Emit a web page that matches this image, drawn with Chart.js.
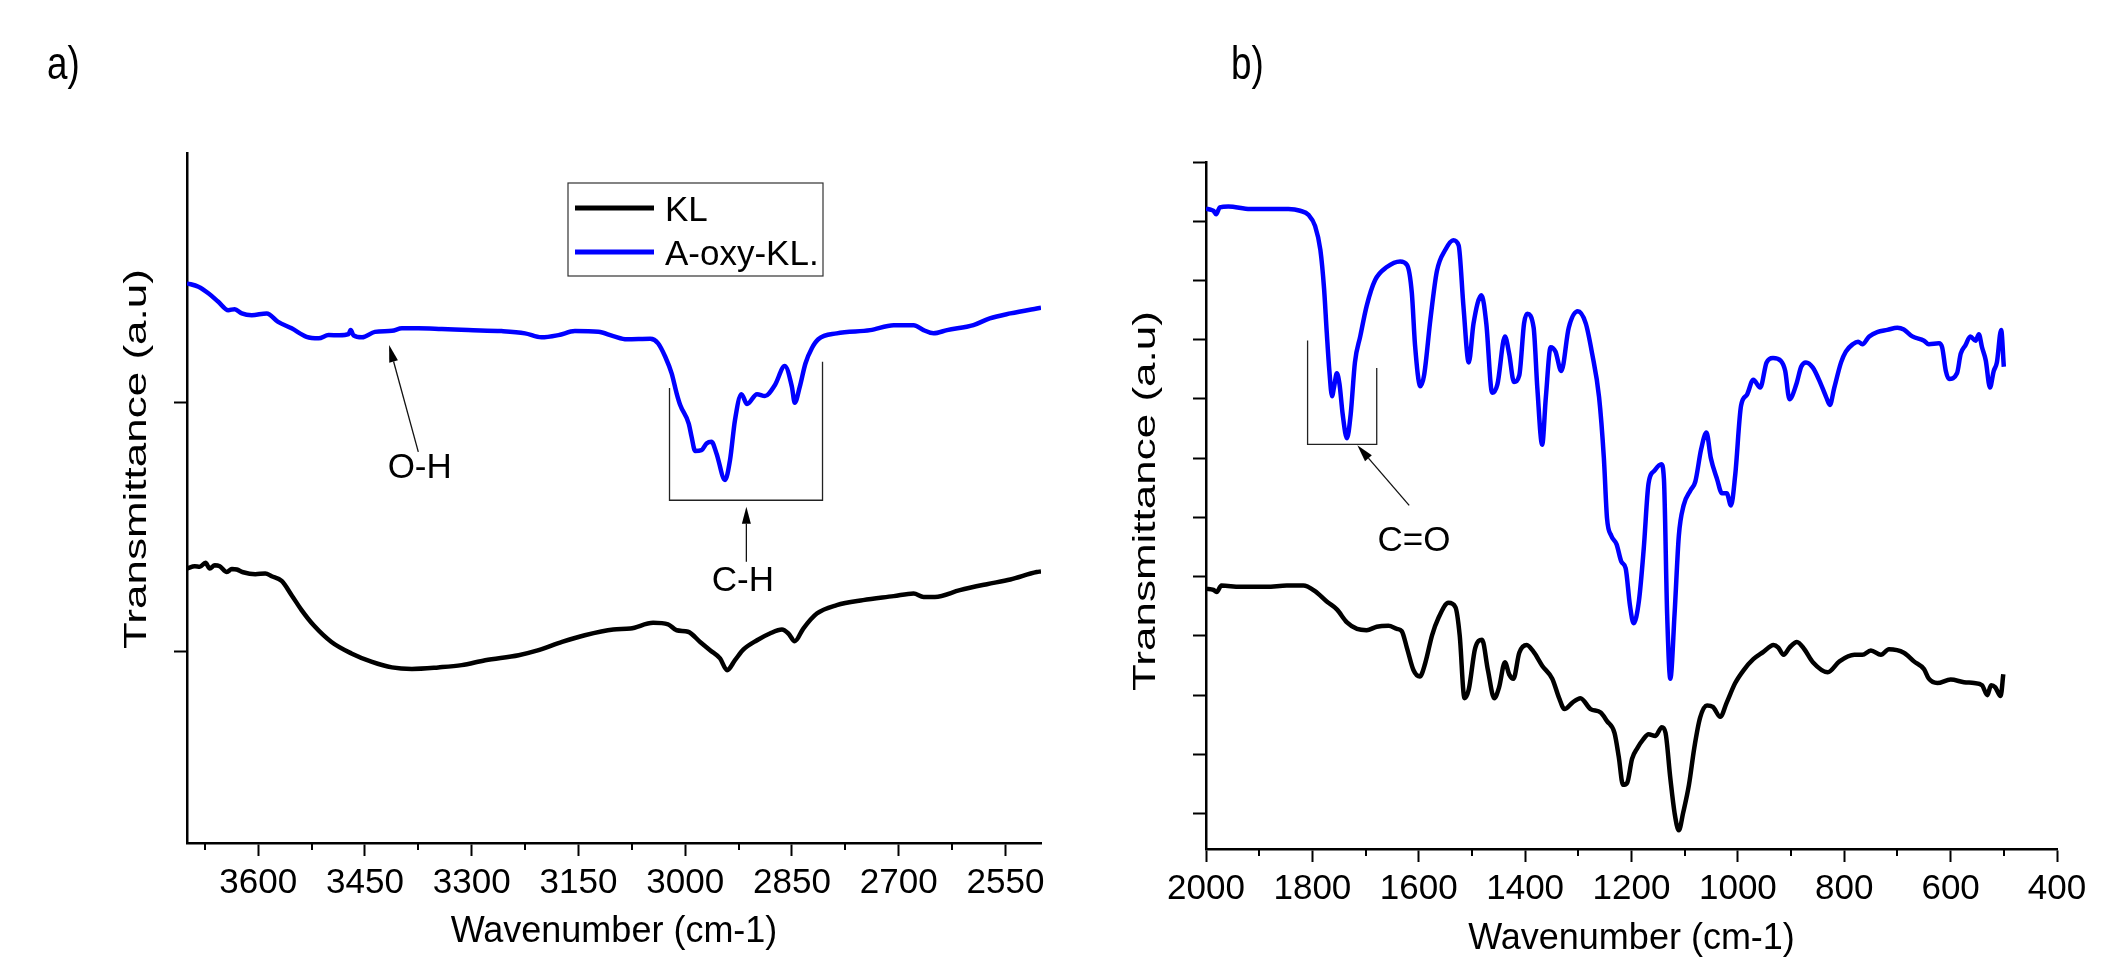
<!DOCTYPE html>
<html>
<head>
<meta charset="utf-8">
<script src="https://cdn.jsdelivr.net/npm/chart.js@4.4.1/dist/chart.umd.min.js"></script>
<style>
html,body{margin:0;padding:0;background:#fff;width:2102px;height:963px;overflow:hidden}
#wa{position:absolute;left:0;top:0;width:1100px;height:963px}
#wb{position:absolute;left:1100px;top:0;width:1002px;height:963px}
</style>
</head>
<body>
<div id="wa"><canvas id="ca"></canvas></div>
<div id="wb"><canvas id="cb"></canvas></div>
<script>
// ---------- Panel a) : 3700 - 2500 cm-1 ----------
const wnA_KL = [3700,3689,3682,3674,3668,3661,3654,3644,3637,3630,
  3621,3604,3590,3581,3567,3553,3539,3522,3497,3469,
  3440,3412,3384,3347,3314,3281,3234,3206,3173,3141,
  3101,3077,3045,3024,3012,2996,2979,2965,2951,2941,
  2930,2918,2899,2881,2864,2855,2846,2834,2815,2787,
  2750,2707,2679,2665,2649,2614,2576,2543,2506,2500];
const trA_KL = [33.2,34.1,33.9,35.5,33.2,34.5,34.1,31.8,33.0,32.8,
  31.7,30.9,31.2,30.1,28.2,22.5,16.5,10.4,3.7,-0.9,
  -4.3,-6.5,-7.1,-6.5,-5.6,-3.6,-1.6,0.4,3.7,6.4,
  8.7,9.1,11.4,10.8,8.4,7.8,3.7,0.4,-2.9,-7.6,
  -3.6,0.7,4.4,7.1,8.7,7.1,4.0,9.1,15.1,18.5,
  20.5,22.1,23.2,21.8,21.8,24.5,26.9,28.8,31.8,32.0];
const wnA_OXY = [3700,3684,3670,3656,3642,3633,3623,3609,3588,3572,
  3553,3532,3515,3501,3486,3473,3470,3466,3454,3436,
  3412,3398,3375,3342,3305,3258,3225,3202,3178,3155,
  3122,3101,3082,3049,3038,3028,3019,3012,3007,2995,
  2991,2986,2977,2970,2963,2956,2944,2937,2930,2921,
  2913,2899,2888,2874,2860,2850,2846,2839,2831,2822,
  2813,2787,2740,2707,2679,2665,2651,2632,2595,2572,
  2543,2506,2500];
const trA_OXY = [147.7,146.3,143.7,140.3,136.9,137.3,135.6,134.9,135.6,132.2,
  129.6,126.2,125.6,126.9,126.8,127.3,128.9,126.8,126.0,128.2,
  128.6,129.6,129.6,129.3,128.9,128.5,127.6,126.0,126.9,128.5,
  128.2,126.5,125.2,125.4,123.6,118.2,111.5,103.5,98.8,91.4,
  86.1,80.4,80.7,83.4,84.1,79.4,68.7,76.7,92.8,103.2,
  99.2,103.2,102.4,106.8,114.5,106.1,99.7,106.1,115.5,121.6,
  125.2,127.6,128.9,130.9,130.9,128.9,127.6,128.9,130.9,133.6,
  135.6,137.6,137.9];
const ticksA_X = [3600,3450,3300,3150,3000,2850,2700,2550];
const minorA_X = [3675,3525,3375,3225,3075,2925,2775,2625];
const ticksA_Y = [0,100];

// ---------- Panel b) : 2000 - 400 cm-1 ----------
const wnB_KL = [2000,1986,1980,1971,1936,1886,1848,1817,1795,1773,
  1754,1735,1716,1698,1679,1657,1641,1632,1622,1610,
  1598,1588,1575,1563,1544,1531,1523,1514,1506,1494,
  1481,1470,1458,1449,1438,1430,1422,1411,1397,1383,
  1368,1349,1336,1326,1311,1296,1277,1258,1246,1232,
  1224,1216,1208,1199,1189,1178,1168,1155,1143,1136,
  1127,1119,1111,1103,1092,1082,1071,1058,1047,1033,
  1021,1005,989,971,952,933,924,914,903,889,
  875,859,831,809,781,766,750,731,716,688,
  669,650,641,625,600,575,556,541,531,524,
  516,506,501];
const trB_KL = [379.7,377.5,373.9,384.9,382.7,382.7,384.9,384.9,375.3,357.8,
  344.6,322.7,311.7,309.5,315.3,316.8,311.7,308.0,278.8,242.2,
  231.2,253.2,300.7,330.0,355.6,348.3,300.7,194.6,209.3,278.8,
  293.4,242.2,194.6,212.9,255.4,234.9,227.6,271.5,284.6,271.5,
  249.5,227.6,194.6,176.3,187.3,194.6,176.3,170.5,155.9,136.1,
  95.9,48.3,52.0,92.2,110.5,125.1,133.9,131.0,145.6,136.1,
  59.3,0.8,-28.5,0.8,48.3,110.5,161.7,182.2,180.0,163.2,
  187.3,220.3,242.2,260.5,272.9,284.6,280.2,267.8,280.0,289.7,
  277.3,255.4,238.6,256.8,267.8,267.8,275.1,267.8,277.3,271.5,
  256.8,243.7,227.6,220.3,226.1,221.7,220.3,216.6,199.8,216.6,
  212.9,198.3,234.9];
const wnB_OXY = [2000,1990,1986,1981,1974,1958,1917,1873,1845,1823,
  1807,1795,1785,1778,1773,1768,1763,1759,1754,1749,
  1743,1735,1728,1720,1710,1698,1682,1660,1635,1622,
  1613,1607,1597,1590,1578,1566,1550,1535,1525,1516,
  1506,1497,1482,1473,1462,1452,1438,1430,1421,1411,
  1402,1396,1384,1377,1368,1361,1352,1343,1332,1318,
  1301,1286,1274,1261,1252,1246,1238,1228,1219,1211,
  1203,1196,1186,1177,1168,1157,1144,1139,1133,1127,
  1119,1111,1102,1089,1080,1069,1059,1051,1039,1030,
  1021,1013,1005,994,983,971,958,946,934,919,
  911,903,890,881,872,859,844,834,827,819,
  806,797,784,774,766,753,738,719,700,688,
  672,650,641,622,616,609,603,588,581,572,
  563,553,547,541,534,526,519,513,505,500];
const trB_OXY = [1021.3,1019.0,1017.7,1011.8,1023.5,1025.0,1020.6,1020.6,1020.6,1017.7,
  1010.4,992.1,951.8,886.0,812.8,747.0,704.6,721.4,743.3,725.0,
  673.8,633.6,673.8,761.6,805.5,856.7,900.6,922.6,932.1,926.2,
  878.7,790.9,721.4,739.7,834.8,915.3,951.8,967.9,959.2,856.7,
  761.6,827.5,875.0,827.5,710.4,725.0,805.5,776.3,728.7,739.7,
  827.5,843.6,820.2,717.7,622.6,703.1,787.2,779.9,747.0,820.2,
  847.9,827.5,776.3,703.1,600.7,498.3,469.0,454.4,425.1,414.1,
  351.9,321.2,359.3,447.0,556.8,578.7,589.7,564.1,337.3,227.6,
  337.3,469.0,520.2,545.8,560.4,615.3,643.1,600.7,564.1,540.7,
  540.7,520.2,571.4,688.5,706.8,732.4,719.2,761.6,768.9,764.0,
  747.0,699.5,725.0,754.3,761.6,752.8,725.0,703.1,689.9,717.7,
  761.6,779.9,792.3,796.7,792.3,805.5,812.8,816.5,820.2,817.2,
  805.5,798.2,792.3,793.8,787.2,747.0,733.8,743.3,776.3,790.9,
  805.5,798.2,809.2,787.2,765.3,719.2,747.0,761.6,816.5,754.3];
const ticksB_X = [2000,1800,1600,1400,1200,1000,800,600,400];
const minorB_X = [1900,1700,1500,1300,1100,900,700,500];
const ticksB_Y = [0,100,200,300,400,500,600,700,800,900,1000,1100];

const seriesNames = ['KL', 'A-oxy-KL.'];
const seriesColors = ['#000000', '#0000ff'];
const xTitle = 'Wavenumber (cm-1)';
const yTitle = 'Transmittance (a.u)';

// ---------- helpers ----------
const SANS = "'Liberation Sans',Arial,Helvetica,sans-serif";
const pairs = (xs, ys) => xs.map((x, i) => ({x: x, y: ys[i]}));

const marksPlugin = {
  id: 'marks',
  afterDraw(chart, args, o) {
    const ctx = chart.ctx, xs = chart.scales.x, ys = chart.scales.y, ca = chart.chartArea;
    const X = v => xs.getPixelForValue(v), Y = v => ys.getPixelForValue(v);
    ctx.save();
    // minor ticks on x axis
    ctx.strokeStyle = '#000'; ctx.lineWidth = 2;
    (o.minorX || []).forEach(v => {
      const px = Math.round(X(v));
      ctx.beginPath(); ctx.moveTo(px, ca.bottom); ctx.lineTo(px, ca.bottom + 7); ctx.stroke();
    });
    // brackets
    ctx.strokeStyle = '#222'; ctx.lineWidth = 1.3;
    (o.brackets || []).forEach(b => {
      ctx.beginPath();
      ctx.moveTo(X(b.x1), Y(b.yLeftTop)); ctx.lineTo(X(b.x1), Y(b.yBottom));
      ctx.lineTo(X(b.x2), Y(b.yBottom)); ctx.lineTo(X(b.x2), Y(b.yRightTop));
      ctx.stroke();
    });
    // arrows
    (o.arrows || []).forEach(a => {
      const x0 = X(a.from[0]), y0 = Y(a.from[1]), x1 = X(a.to[0]), y1 = Y(a.to[1]);
      const ang = Math.atan2(y1 - y0, x1 - x0), L = 17, W = 4.5;
      const bx = x1 - L * Math.cos(ang), by = y1 - L * Math.sin(ang);
      ctx.strokeStyle = '#111'; ctx.lineWidth = 1.3;
      ctx.beginPath(); ctx.moveTo(x0, y0); ctx.lineTo(bx, by); ctx.stroke();
      ctx.fillStyle = '#000';
      ctx.beginPath(); ctx.moveTo(x1, y1);
      ctx.lineTo(bx + W * Math.sin(ang), by - W * Math.cos(ang));
      ctx.lineTo(bx - W * Math.sin(ang), by + W * Math.cos(ang));
      ctx.closePath(); ctx.fill();
    });
    // annotation labels
    ctx.fillStyle = '#000'; ctx.textAlign = 'center'; ctx.textBaseline = 'alphabetic';
    ctx.font = '35px ' + SANS;
    (o.labels || []).forEach(l => ctx.fillText(l.text, X(l.x), Y(l.y)));
    // rotated y-axis title (thin, as in the figure)
    if (o.yTitle) {
      const t = o.yTitle;
      ctx.save();
      ctx.translate(t.cx, t.cy); ctx.rotate(-Math.PI / 2); ctx.scale(1, t.squeeze);
      ctx.font = t.size + 'px ' + SANS; ctx.textAlign = 'center'; ctx.textBaseline = 'middle';
      ctx.fillText(t.text, 0, 0);
      ctx.restore();
    }
    // panel letter (condensed)
    if (o.panel) {
      const p = o.panel;
      ctx.textAlign = 'left'; ctx.textBaseline = 'alphabetic'; ctx.font = p.size + 'px ' + SANS;
      const w = ctx.measureText(p.text).width;
      ctx.fillText(p.text, p.px, p.py, w * p.squeeze);
    }
    ctx.restore();
  }
};

const boxLegendPlugin = {
  id: 'boxLegend',
  afterDraw(chart, args, o) {
    if (!o.show) return;
    const ctx = chart.ctx, ca = chart.chartArea;
    const bx = ca.left + o.dx, by = ca.top + o.dy;
    ctx.save();
    ctx.strokeStyle = '#333'; ctx.lineWidth = 1.2;
    ctx.strokeRect(bx, by, o.w, o.h);
    ctx.font = '35px ' + SANS; ctx.textBaseline = 'alphabetic'; ctx.textAlign = 'left';
    chart.data.datasets.forEach((ds, i) => {
      const yy = by + o.firstRow + i * o.rowGap;
      ctx.strokeStyle = ds.borderColor; ctx.lineWidth = 5;
      ctx.beginPath(); ctx.moveTo(bx + 7, yy); ctx.lineTo(bx + 86, yy); ctx.stroke();
      ctx.fillStyle = '#000';
      ctx.fillText(ds.label, bx + 97, yy + 12.5);
    });
    ctx.restore();
  }
};

function lineDs(i, xs, ys) {
  return {label: seriesNames[i], data: pairs(xs, ys), borderColor: seriesColors[i],
          backgroundColor: seriesColors[i], borderWidth: 4.5, pointRadius: 0,
          cubicInterpolationMode: 'monotone', fill: false};
}

function xScale(min, max, ticks, height, titlePad) {
  return {
    type: 'linear', reverse: true, min: min, max: max,
    afterBuildTicks: s => { s.ticks = ticks.map(v => ({value: v})); },
    afterFit: s => { s.height = height; },
    grid: {display: true, drawOnChartArea: false, drawTicks: true, tickLength: 13, tickWidth: 2, tickColor: '#000'},
    border: {display: true, color: '#000', width: 2.5},
    ticks: {autoSkip: false, maxRotation: 0, minRotation: 0, padding: 6, color: '#000',
            font: {family: SANS, size: 35}, callback: v => String(v)},
    title: {display: true, text: xTitle, color: '#000',
            font: {family: SANS, size: 36}, padding: {top: 0, bottom: titlePad}}
  };
}
function yScale(min, max, ticks, width) {
  return {
    type: 'linear', min: min, max: max,
    afterBuildTicks: s => { s.ticks = ticks.map(v => ({value: v})); },
    afterFit: s => { s.width = width; },
    grid: {display: true, drawOnChartArea: false, drawTicks: true, tickLength: 13, tickWidth: 2, tickColor: '#000'},
    border: {display: true, color: '#000', width: 2.5},
    ticks: {autoSkip: false, padding: 0, callback: () => ''},
    title: {display: false}
  };
}

new Chart(document.getElementById('ca'), {
  type: 'line',
  data: {datasets: [lineDs(0, wnA_KL, trA_KL), lineDs(1, wnA_OXY, trA_OXY)]},
  options: {
    responsive: true, maintainAspectRatio: false, animation: false,
    layout: {padding: {left: 0, top: 153, right: 59, bottom: 0}},
    plugins: {
      legend: {display: false}, tooltip: {enabled: false},
      marks: {
        minorX: minorA_X,
        brackets: [{x1: 3022, x2: 2807, yBottom: 60.6, yLeftTop: 105.7, yRightTop: 116.2}],
        arrows: [{from: [3375, 80.0], to: [3416, 122.9]}, {from: [2914, 35.9], to: [2914, 58.0]}],
        labels: [{text: 'O-H', x: 3373, y: 69.4}, {text: 'C-H', x: 2919, y: 24.1}],
        yTitle: {text: yTitle, cx: 138, cy: 459, size: 44, squeeze: 0.7},
        panel: {text: 'a)', px: 47, py: 79, size: 46, squeeze: 0.8}
      },
      boxLegend: {show: true, dx: 381, dy: 30, w: 255, h: 93, firstRow: 25, rowGap: 44}
    },
    scales: {x: xScale(2500, 3700, ticksA_X, 120, 9), y: yScale(-77, 200, ticksA_Y, 187)}
  },
  plugins: [marksPlugin, boxLegendPlugin]
});

new Chart(document.getElementById('cb'), {
  type: 'line',
  data: {datasets: [lineDs(0, wnB_KL, trB_KL), lineDs(1, wnB_OXY, trB_OXY)]},
  options: {
    responsive: true, maintainAspectRatio: false, animation: false,
    layout: {padding: {left: 0, top: 162, right: 45, bottom: 0}},
    plugins: {
      legend: {display: false}, tooltip: {enabled: false},
      marks: {
        minorX: minorB_X,
        brackets: [{x1: 1809, x2: 1679, yBottom: 623.3, yLeftTop: 798.8, yRightTop: 752.1}],
        arrows: [{from: [1618, 520.3], to: [1715.5, 621.6]}],
        labels: [{text: 'C=O', x: 1609, y: 443.2}],
        yTitle: {text: yTitle, cx: 47, cy: 501, size: 44, squeeze: 0.7},
        panel: {text: 'b)', px: 131, py: 79, size: 46, squeeze: 0.8}
      },
      boxLegend: {show: false}
    },
    scales: {x: xScale(400, 2000, ticksB_X, 114, 2), y: yScale(-60, 1100, ticksB_Y, 106)}
  },
  plugins: [marksPlugin, boxLegendPlugin]
});
</script>
</body>
</html>
